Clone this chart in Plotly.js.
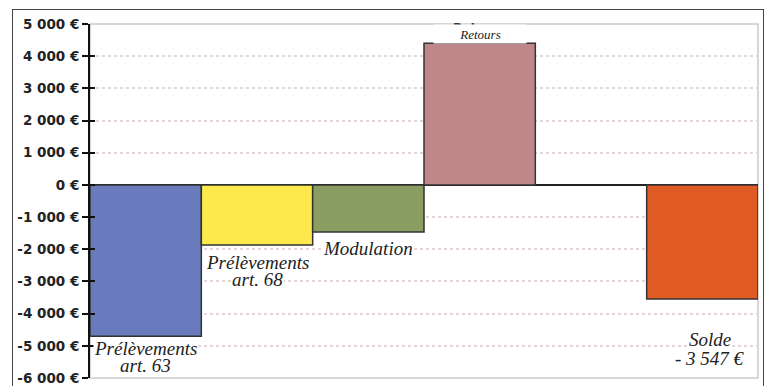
<!DOCTYPE html>
<html>
<head>
<meta charset="utf-8">
<script src="https://cdn.plot.ly/plotly-3.0.1.min.js"></script>
<style>
  html, body { margin: 0; padding: 0; background: #fff; }
  #wrap { position: relative; width: 774px; height: 386px; overflow: hidden; }
  #chart { position: absolute; left: 0; top: 0; width: 774px; height: 386px; }
  #frame { position: absolute; left: 12px; top: 9px; width: 750px; height: 400px;
           border: 1.5px solid #444; pointer-events: none; }
</style>
</head>
<body>
<div id="wrap">
  <div id="chart"></div>
  <div id="frame"></div>
</div>
<script>
// ---- data ----
const categories = ["Prélèvements art. 63", "Prélèvements art. 68", "Modulation", "Retours", " ", "Solde"];
const values = [-4700, -1870, -1460, 4400, null, -3547];
const barColors = ["#6a7bbd", "#fde94c", "#8a9e62", "#c0878a", "#ffffff", "#e05a24"];

const tickVals = [5000, 4000, 3000, 2000, 1000, 0, -1000, -2000, -3000, -4000, -5000, -6000];
const tickText = ["5 000 €", "4 000 €", "3 000 €", "2 000 €", "1 000 €", "0 €",
                  "-1 000 €", "-2 000 €", "-3 000 €", "-4 000 €", "-5 000 €", "-6 000 €"];

// label lines: category, text, value
const labelCats  = ["Prélèvements art. 63", "Prélèvements art. 63", "Prélèvements art. 68", "Prélèvements art. 68", "Modulation", "Solde", "Solde"];
const labelTexts = ["Prélèvements", "art. 63", "Prélèvements", "art. 68", "Modulation", "Solde", "- 3 547 €"];
const labelVals  = [-5060, -5600, -2400, -2920, -1960, -4780, -5370];

const serif = "Liberation Serif";

const annotations = labelTexts.map((t, i) => ({
  x: labelCats[i], y: labelVals[i], xref: "x", yref: "y",
  text: "<i>" + t + "</i>", showarrow: false, xanchor: "center", yanchor: "middle",
  xshift: labelCats[i] === "Solde" ? 8 : 0,
  height: 16,
  font: { family: serif, size: 19, color: "#222", style: "italic" },
  bgcolor: "#ffffff", borderpad: 0
}));
// partly hidden bold "Retours" behind, then small italic "Retours" on a white box
annotations.push({
  x: "Retours", y: 4870, xref: "x", yref: "y", text: "Retours", showarrow: false,
  xanchor: "center", yanchor: "middle",
  font: { family: "DejaVu Sans, Arial, sans-serif", size: 12, color: "#333", weight: "bold" }
});
annotations.push({
  x: "Retours", y: 4690, xref: "x", yref: "y", text: "<i>Retours</i>", showarrow: false,
  xanchor: "center", yanchor: "middle", width: 90, height: 16,
  font: { family: serif, size: 13, color: "#222", style: "italic" },
  bgcolor: "#ffffff"
});

const trace = {
  type: "bar",
  x: categories,
  y: values,
  marker: { color: barColors, line: { color: "#333", width: 1.5 } },
  hoverinfo: "skip"
};

const layout = {
  width: 774, height: 386,
  margin: { l: 90, r: 16, t: 24, b: 8 },
  paper_bgcolor: "#ffffff", plot_bgcolor: "#ffffff",
  showlegend: false,
  bargap: 0,
  xaxis: {
    type: "category", categoryorder: "array", categoryarray: categories,
    range: [-0.5, 5.5], showticklabels: false, ticks: "", showgrid: false,
    showline: false, zeroline: false, fixedrange: true
  },
  yaxis: {
    range: [-6000, 5000], tickmode: "array", tickvals: tickVals, ticktext: tickText,
    tickfont: { family: "DejaVu Sans, Arial, sans-serif", size: 13.5, color: "#222", weight: "bold" },
    ticks: "outside", ticklen: 6, tickwidth: 2, tickcolor: "#111",
    showline: true, linecolor: "#111", linewidth: 2,
    showgrid: true, gridcolor: "#e2d6d6", gridwidth: 2, griddash: "3px,3px",
    zeroline: true, zerolinecolor: "#222", zerolinewidth: 2,
    fixedrange: true
  },
  yaxis2: {
    overlaying: "y", side: "left", range: [-6000, 5000],
    tickmode: "array", tickvals: tickVals, showticklabels: false,
    ticks: "inside", ticklen: 5, tickwidth: 2, tickcolor: "#111",
    showgrid: false, zeroline: false, showline: false
  },
  shapes: [
    { type: "rect", xref: "paper", yref: "paper", x0: 0, x1: 1, y0: 0, y1: 1,
      line: { color: "#cfc8c8", width: 1.5 }, layer: "below" }
  ],
  annotations: annotations
};

const trace2 = { type: "scatter", x: [categories[0]], y: [null], yaxis: "y2", hoverinfo: "skip", showlegend: false };

Plotly.newPlot("chart", [trace, trace2], layout, { staticPlot: true, displayModeBar: false });
</script>
</body>
</html>
